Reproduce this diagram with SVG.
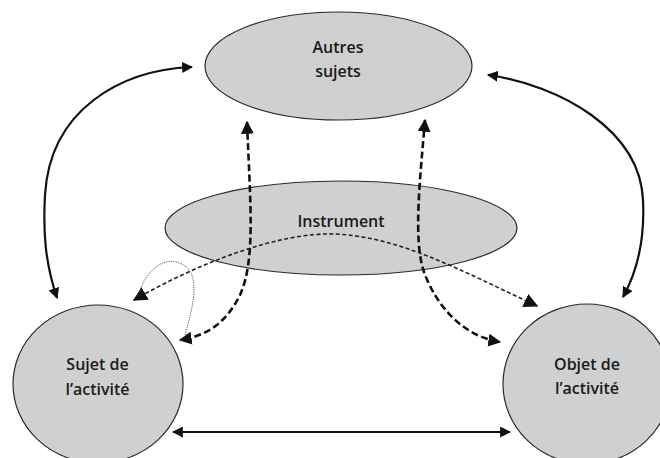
<svg xmlns="http://www.w3.org/2000/svg" width="660" height="458" viewBox="0 0 660 458">
<style>
.node{fill:#d0d0d0;stroke:#2a2a2a;stroke-width:1.2}
.lbl{font-family:"Open Sans","DejaVu Sans",sans-serif;font-size:16px;font-weight:600;fill:#1a1a1a;text-anchor:middle}
.solid{fill:none;stroke:#111;stroke-width:2.2}
.dashT{fill:none;stroke:#111;stroke-width:2.6;stroke-dasharray:7,3.5}
.dashF{fill:none;stroke:#222;stroke-width:1.6;stroke-dasharray:4,2.5}
.dot{fill:none;stroke:#555;stroke-width:1;stroke-dasharray:1.2,1.2}
</style>
<defs>
<marker id="ah" viewBox="0 0 10 10" refX="9" refY="5" markerWidth="5" markerHeight="5" orient="auto-start-reverse" markerUnits="strokeWidth">
<path d="M0,0 L10,5 L0,10 z" fill="#111"/>
</marker>
<marker id="ahF" viewBox="0 0 10 10" refX="9" refY="5" markerWidth="9" markerHeight="9" orient="auto-start-reverse" markerUnits="strokeWidth">
<path d="M0,0 L10,5 L0,10 z" fill="#111"/>
</marker>
</defs>
<rect width="660" height="458" fill="#fff"/>
<g id="autres-sujets">
<ellipse class="node" cx="338.5" cy="66" rx="133.5" ry="54"/>
<text class="lbl" x="338" y="53">Autres</text>
<text class="lbl" x="338" y="77">sujets</text>
</g>
<g id="instrument">
<ellipse class="node" cx="341" cy="228" rx="176" ry="47"/>
<text class="lbl" x="341" y="227">Instrument</text>
</g>
<g id="sujet">
<ellipse class="node" cx="98" cy="384" rx="85" ry="79"/>
<text class="lbl" x="97.5" y="370">Sujet de</text>
<text class="lbl" x="97.5" y="395">l’activité</text>
</g>
<g id="objet">
<ellipse class="node" cx="587" cy="384" rx="84" ry="80"/>
<text class="lbl" x="587" y="370">Objet de</text>
<text class="lbl" x="587" y="394">l’activité</text>
</g>
<g id="connectors">
<path class="solid" d="M57,298 C45,262 43,232 45,195 C50,110 120,70 192,67" marker-start="url(#ah)" marker-end="url(#ah)"/>
<path class="solid" d="M488,75 C560,85 640,130 643,200 C645,240 638,270 623,297" marker-start="url(#ah)" marker-end="url(#ah)"/>
<path class="solid" d="M173,432 L510,432" stroke-width="2.6" marker-start="url(#ah)" marker-end="url(#ah)"/>
<path class="dashT" d="M247,122 C250,200 256,260 240,295 C225,325 205,336 180,340" marker-start="url(#ah)" marker-end="url(#ah)"/>
<path class="dashT" d="M425,120 C420,180 413,240 424,272 C436,305 462,336 500,342" marker-start="url(#ah)" marker-end="url(#ah)"/>
<path class="dashF" d="M134,300 C200,262 280,232 335,234 C400,237 460,270 537,306" marker-end="url(#ahF)" marker-start="url(#ahF)"/>
<path class="dot" d="M185,335 C195,300 202,268 176,262 C160,258 146,274 140,290"/>
</g>
</svg>
